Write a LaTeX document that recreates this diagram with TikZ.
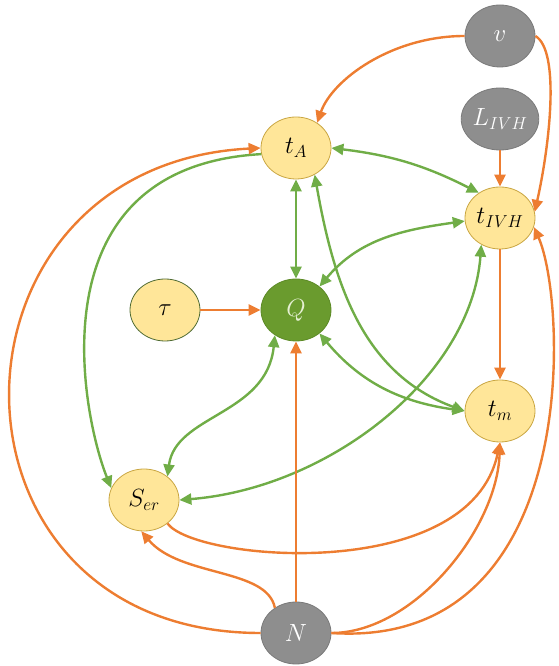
\documentclass[tikz,border=0pt]{standalone}
\usepackage{tikz}
\usetikzlibrary{shapes.geometric, arrows.meta}
\definecolor{nodeyellow}{HTML}{FFE699}
\definecolor{nodegold}{HTML}{C9A642}
\definecolor{nodegray}{HTML}{8E8E8E}
\definecolor{graydraw}{HTML}{7A7A7A}
\definecolor{qgreen}{HTML}{6A9B2E}
\definecolor{qdraw}{HTML}{5C8A26}
\definecolor{qtext}{HTML}{E6F0D4}
\definecolor{taudraw}{HTML}{4F6B33}
\definecolor{linkorange}{HTML}{ED7D31}
\definecolor{linkgreen}{HTML}{70AD47}
\tikzstyle{yellownode} = [ellipse, minimum width=70pt, minimum height=62pt, inner sep=0pt, draw=nodegold, fill=nodeyellow, line width=0.8pt, font=\fontsize{23}{27}\selectfont]
\tikzstyle{graynode} = [yellownode, draw=graydraw, fill=nodegray, text=white]
\tikzstyle{qnode} = [yellownode, draw=qdraw, fill=qgreen, text=qtext]
\tikzstyle{orangearrow} = [line width=2.4pt, draw=linkorange, -{Triangle[length=12pt,width=11pt]}]
\tikzstyle{greenarrow} = [line width=2.4pt, draw=linkgreen, {Triangle[length=12pt,width=11pt]}-{Triangle[length=12pt,width=11pt]}]
\tikzstyle{greenone} = [line width=2.4pt, draw=linkgreen, -{Triangle[length=12pt,width=11pt]}]

\begin{document}
\begin{tikzpicture}[x=1pt, y=1pt]
      \useasboundingbox (0,0) rectangle (558,666);

      \node (q) [qnode] at (296,356) {$Q$};
      \node (ta) [yellownode, above of=q, node distance=162pt] {$t_A$};
      \node (tau) [yellownode, left of=q, node distance=131pt, draw=taudraw] {$\tau$};
      \node (n) [graynode, below of=q, node distance=323pt] {$N$};

      \node (v) [graynode] at (500,630) {$v$};
      \node (livh) [graynode, below of=v, node distance=83pt] {$L_{IVH}$};
      \node (tivh) [yellownode, below of=livh, node distance=99pt] {$t_{IVH}$};
      \node (tm) [yellownode, below of=tivh, node distance=193pt] {$t_m$};

      \node (ser) [yellownode] at (144,166) {$S_{er}$};

      % green links
      \draw [greenarrow] (ta.south) -- (q.north);
      \draw [greenarrow] (ta.east) to[bend left=10] (tivh.130);
      \draw [greenarrow] (q.45) to[out=50, in=188] (tivh.185);
      \draw [greenarrow] (ta.-55) to[out=-80, in=160] (tm.west);
      \draw [greenarrow] (q.-45) to[out=-50, in=172] (tm.west);
      \draw [greenarrow] (q.230) .. controls +(-8,-80) and +(8,62) .. (ser.45);
      \draw [greenarrow] (tivh.235) .. controls +(-10,-132) and +(150,12) .. (ser.east);
      \draw [greenone] (ta.190) .. controls +(-232,-13) and +(-28,69) .. (ser.160);

      % orange links
      \draw [orangearrow] (v.west) .. controls +(-73,0) and +(15,43) .. (ta.50);
      \draw [orangearrow] (v.east) .. controls +(25,-15) and +(15,67) .. (tivh.10);
      \draw [orangearrow] (livh) -- (tivh);
      \draw [orangearrow] (tivh) -- (tm);
      \draw [orangearrow] (tau) -- (q);
      \draw [orangearrow] (n) -- (q);
      \draw [orangearrow] (n.130) .. controls +(-8,40) and +(39,-46) .. (ser.-95);
      \draw [orangearrow] (n.west) .. controls +(-335,0) and +(-332,-17) .. (ta.west);
      \draw [orangearrow] (n.east) .. controls +(82,0) and +(-3,-87) .. (tm.south);
      \draw [orangearrow] (ser.-45) .. controls +(28,-38) and +(-30,-142) .. (tm.south);
      \draw [orangearrow] (n.east) .. controls +(252,-17) and +(33,-74) .. (tivh.-15);
    \end{tikzpicture}
\end{document}
